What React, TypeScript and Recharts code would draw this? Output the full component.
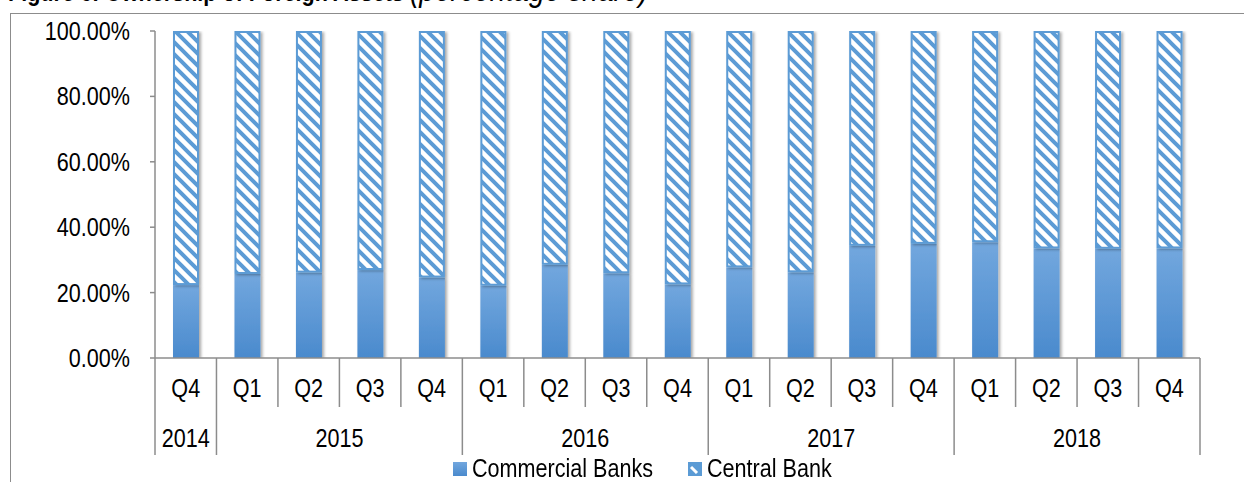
import React from 'react';
import { BarChart, Bar, XAxis, YAxis, Legend } from 'recharts';

const QUARTERS = ['Q4', 'Q1', 'Q2', 'Q3', 'Q4', 'Q1', 'Q2', 'Q3', 'Q4', 'Q1', 'Q2', 'Q3', 'Q4', 'Q1', 'Q2', 'Q3', 'Q4'];
const YEARS = ['2014', '2015', '2015', '2015', '2015', '2016', '2016', '2016', '2016', '2017', '2017', '2017', '2017', '2018', '2018', '2018', '2018'];
const COMMERCIAL = [22.3, 25.7, 26.1, 26.9, 24.6, 22.1, 28.5, 25.9, 22.5, 27.7, 26.2, 34.3, 34.9, 35.4, 33.5, 33.4, 33.5];
const CENTRAL = [77.7, 74.3, 73.9, 73.1, 75.4, 77.9, 71.5, 74.1, 77.5, 72.3, 73.8, 65.7, 65.1, 64.6, 66.5, 66.6, 66.5];
const Y_TICKS = [0, 20, 40, 60, 80, 100];

const data = QUARTERS.map((q, i) => ({
  idx: i,
  q,
  year: YEARS[i],
  commercial: COMMERCIAL[i],
  central: CENTRAL[i],
}));

const W = 1244;
const H = 482;
const LEFT = 155;
const RIGHT_M = 44;
const TOP = 31;
const XAXIS_H = 124;
const PLOT_W = W - LEFT - RIGHT_M;
const BAND = PLOT_W / data.length;
const AXIS_Y = H - XAXIS_H;
const FONT = '"Liberation Sans", Arial, sans-serif';
const FS = 26;
const SX = 0.83;
const GRAY = '#8c8c8c';
const BLUE = '#5b9bd5';

const NText = ({ x, y, anchor = 'middle', children }: any) => (
  <text
    transform={`translate(${x},${y}) scale(${SX},1)`}
    textAnchor={anchor}
    fontSize={FS}
    fontFamily={FONT}
    fill="#000"
  >
    {children}
  </text>
);

const XTick = (props: any) => {
  const { x, index } = props;
  const i = index as number;
  const left = x - BAND / 2;
  const isYearStart = i === 0 || YEARS[i] !== YEARS[i - 1];
  const last = i === data.length - 1;
  let yearLabel = null;
  if (isYearStart) {
    let n = 0;
    while (i + n < data.length && YEARS[i + n] === YEARS[i]) n++;
    yearLabel = <NText x={left + (n * BAND) / 2} y={447}>{YEARS[i]}</NText>;
  }
  return (
    <g>
      <line x1={left} x2={left} y1={AXIS_Y} y2={isYearStart ? 455 : 407} stroke={GRAY} strokeWidth={1.5} />
      {last && <line x1={left + BAND} x2={left + BAND} y1={AXIS_Y} y2={455} stroke={GRAY} strokeWidth={1.5} />}
      <NText x={x} y={397}>{QUARTERS[i]}</NText>
      {yearLabel}
    </g>
  );
};

const YTick = (props: any) => {
  const { x, y, payload } = props;
  return (
    <NText x={x} y={y + 9} anchor="end">
      {`${Number(payload.value).toFixed(2)}%`}
    </NText>
  );
};

const CommercialShape = (p: any) => {
  const { x, y, width, height } = p;
  if (!height || height <= 0) return null;
  return <rect x={x} y={y} width={width} height={height} fill="url(#gradCom)" filter="url(#shadow)" />;
};

const CentralShape = (p: any) => {
  const { x, y, width, height } = p;
  if (!height || height <= 0) return null;
  return (
    <rect
      x={x + 1}
      y={y + 1}
      width={width - 2}
      height={height - 2}
      fill="url(#stripes)"
      stroke={BLUE}
      strokeWidth={2}
      filter="url(#shadow)"
    />
  );
};

const spanStyle: React.CSSProperties = {
  position: 'absolute',
  top: 0,
  lineHeight: '26px',
  whiteSpace: 'nowrap',
  transform: `scale(${SX},1)`,
  transformOrigin: 'left center',
};

const LegendContent = () => (
  <div style={{ position: 'relative', width: W, height: 26, fontFamily: FONT, fontSize: FS, color: '#000' }}>
    <svg style={{ position: 'absolute', left: 453, top: 7 }} width={14} height={14}>
      <defs>
        <linearGradient id="legGrad" x1="0" y1="0" x2="0" y2="1">
          <stop offset="0%" stopColor="#72a7de" />
          <stop offset="100%" stopColor="#4a8acd" />
        </linearGradient>
      </defs>
      <rect x={0} y={0} width={14} height={14} fill="url(#legGrad)" />
    </svg>
    <span style={{ ...spanStyle, left: 472 }}>Commercial Banks</span>
    <svg style={{ position: 'absolute', left: 688, top: 7 }} width={14} height={14}>
      <rect x={1} y={1} width={12} height={12} fill={BLUE} stroke={BLUE} strokeWidth={2} />
      <path d="M3,5 L9,11" stroke="#fff" strokeWidth={3} />
    </svg>
    <span style={{ ...spanStyle, left: 707 }}>Central Bank</span>
  </div>
);

export default function App() {
  return (
    <div style={{ position: 'absolute', left: 0, top: 0, width: W, height: H, overflow: 'hidden', background: '#fff' }}>
      <svg style={{ position: 'absolute', left: 0, top: 0 }} width={W} height={12}>
        <text
          transform={`translate(8,1) scale(${SX},1)`}
          fontSize={FS}
          fontFamily={FONT}
          fontWeight="bold"
          fill="#000"
        >
          Figure 6: Ownership of Foreign Assets{' '}
          <tspan fontStyle="italic" fontWeight="normal" fontSize={34}>(percentage share)</tspan>
        </text>
      </svg>
      <div
        style={{
          position: 'absolute',
          left: 10,
          top: 13,
          width: 1400,
          height: 800,
          border: `1.5px solid ${GRAY}`,
          boxSizing: 'border-box',
        }}
      />
      <div style={{ position: 'absolute', left: 0, top: 0 }}>
        <BarChart width={W} height={H} data={data} margin={{ top: TOP, right: RIGHT_M, left: 0, bottom: 0 }} barSize={26}>
          <defs>
            <linearGradient id="gradCom" x1="0" y1="0" x2="0" y2="1">
              <stop offset="0%" stopColor="#72a7de" />
              <stop offset="100%" stopColor="#4a8acd" />
            </linearGradient>
            <pattern id="stripes" patternUnits="userSpaceOnUse" width={12} height={12}>
              <rect width={12} height={12} fill="#fff" />
              <path d="M-3,9 l6,6 M0,0 l12,12 M9,-3 l6,6" stroke={BLUE} strokeWidth={4} />
            </pattern>
            <filter id="shadow" x="-30%" y="-10%" width="160%" height="120%">
              <feDropShadow dx={2} dy={1} stdDeviation={1.8} floodColor="#000" floodOpacity={0.35} />
            </filter>
          </defs>
          <XAxis
            dataKey="idx"
            type="category"
            height={XAXIS_H}
            interval={0}
            tickLine={false}
            tick={<XTick />}
            axisLine={{ stroke: GRAY, strokeWidth: 1.5 }}
          />
          <YAxis
            width={LEFT}
            domain={[0, 100]}
            ticks={Y_TICKS}
            tick={<YTick />}
            tickSize={5}
            tickMargin={20}
            tickLine={{ stroke: GRAY, strokeWidth: 1.5 }}
            axisLine={{ stroke: GRAY, strokeWidth: 1.5 }}
            allowDataOverflow
          />
          <Legend
            verticalAlign="middle"
            align="center"
            content={<LegendContent />}
            wrapperStyle={{ top: 455, left: 0, width: W, height: 26 }}
          />
          <Bar dataKey="commercial" name="Commercial Banks" stackId="a" isAnimationActive={false} shape={<CommercialShape />} />
          <Bar dataKey="central" name="Central Bank" stackId="a" isAnimationActive={false} shape={<CentralShape />} />
        </BarChart>
      </div>
    </div>
  );
}
